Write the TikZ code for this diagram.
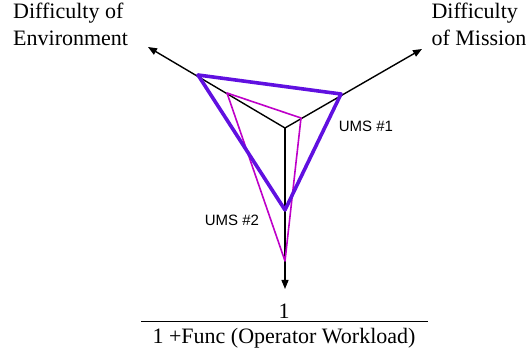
\documentclass[tikz,border=0pt]{standalone}
\usetikzlibrary{arrows.meta}
\usepackage{fontspec}
\setmainfont{Liberation Serif}
\newfontfamily\umsfont{Liberation Sans}
\definecolor{umsone}{RGB}{96,16,224}
\definecolor{umstwo}{RGB}{190,0,200}

\begin{document}
\begin{tikzpicture}[x=1pt, y=-1pt,
    axis/.style={line width=1.4pt, -{Triangle[length=9pt, width=7pt]}},
    umsthick/.style={line width=3.6pt, umsone, line join=round},
    umsthin/.style={line width=1.6pt, umstwo, line join=round},
    axlabel/.style={font=\fontsize{22}{27}\selectfont, align=left, inner sep=0pt},
    umslabel/.style={font=\umsfont\fontsize{15}{18}\selectfont, inner sep=0pt}]
    \useasboundingbox (0, 0) rectangle (528, 352);

    % axes
    \coordinate (o) at (285, 128);
    \coordinate (envtip) at (148, 47);
    \coordinate (mistip) at (422, 49);
    \coordinate (worktip) at (285, 289);

    % UMS #1
    \coordinate (a1) at (198, 75);
    \coordinate (b1) at (341, 94);
    \coordinate (c1) at (285, 210);
    % UMS #2
    \coordinate (a2) at (227, 93);
    \coordinate (b2) at (301, 118);
    \coordinate (c2) at (285, 261);

    \draw[axis] (o) -- (envtip);
    \draw[axis] (o) -- (mistip);
    \draw[axis] (o) -- (worktip);

    \draw[umsthin] (a2) -- (b2) -- (c2) -- cycle;
    \draw[umsthick] (a1) -- (b1) -- (c1) -- cycle;

    \node[umslabel] (ums1) at (366, 126) {UMS \#1};
    \node[umslabel] (ums2) at (232, 220) {UMS \#2};

    \node[axlabel, anchor=north west] (env) at (13, 3) {Difficulty of\\Environment};
    \node[axlabel, anchor=north east] (mis) at (526.5, 3) {Difficulty\\of Mission};

    % fraction
    \node[font=\fontsize{22}{26}\selectfont, inner sep=0pt] (num) at (284, 311) {1};
    \node[font=\fontsize{22}{26}\selectfont, inner sep=0pt] (den) at (284, 338) {1 +Func (Operator Workload)};
    \coordinate (barl) at (141, 322);
    \coordinate (barr) at (428, 322);
    \draw[line width=1pt] (barl) -- (barr);
\end{tikzpicture}
\end{document}
